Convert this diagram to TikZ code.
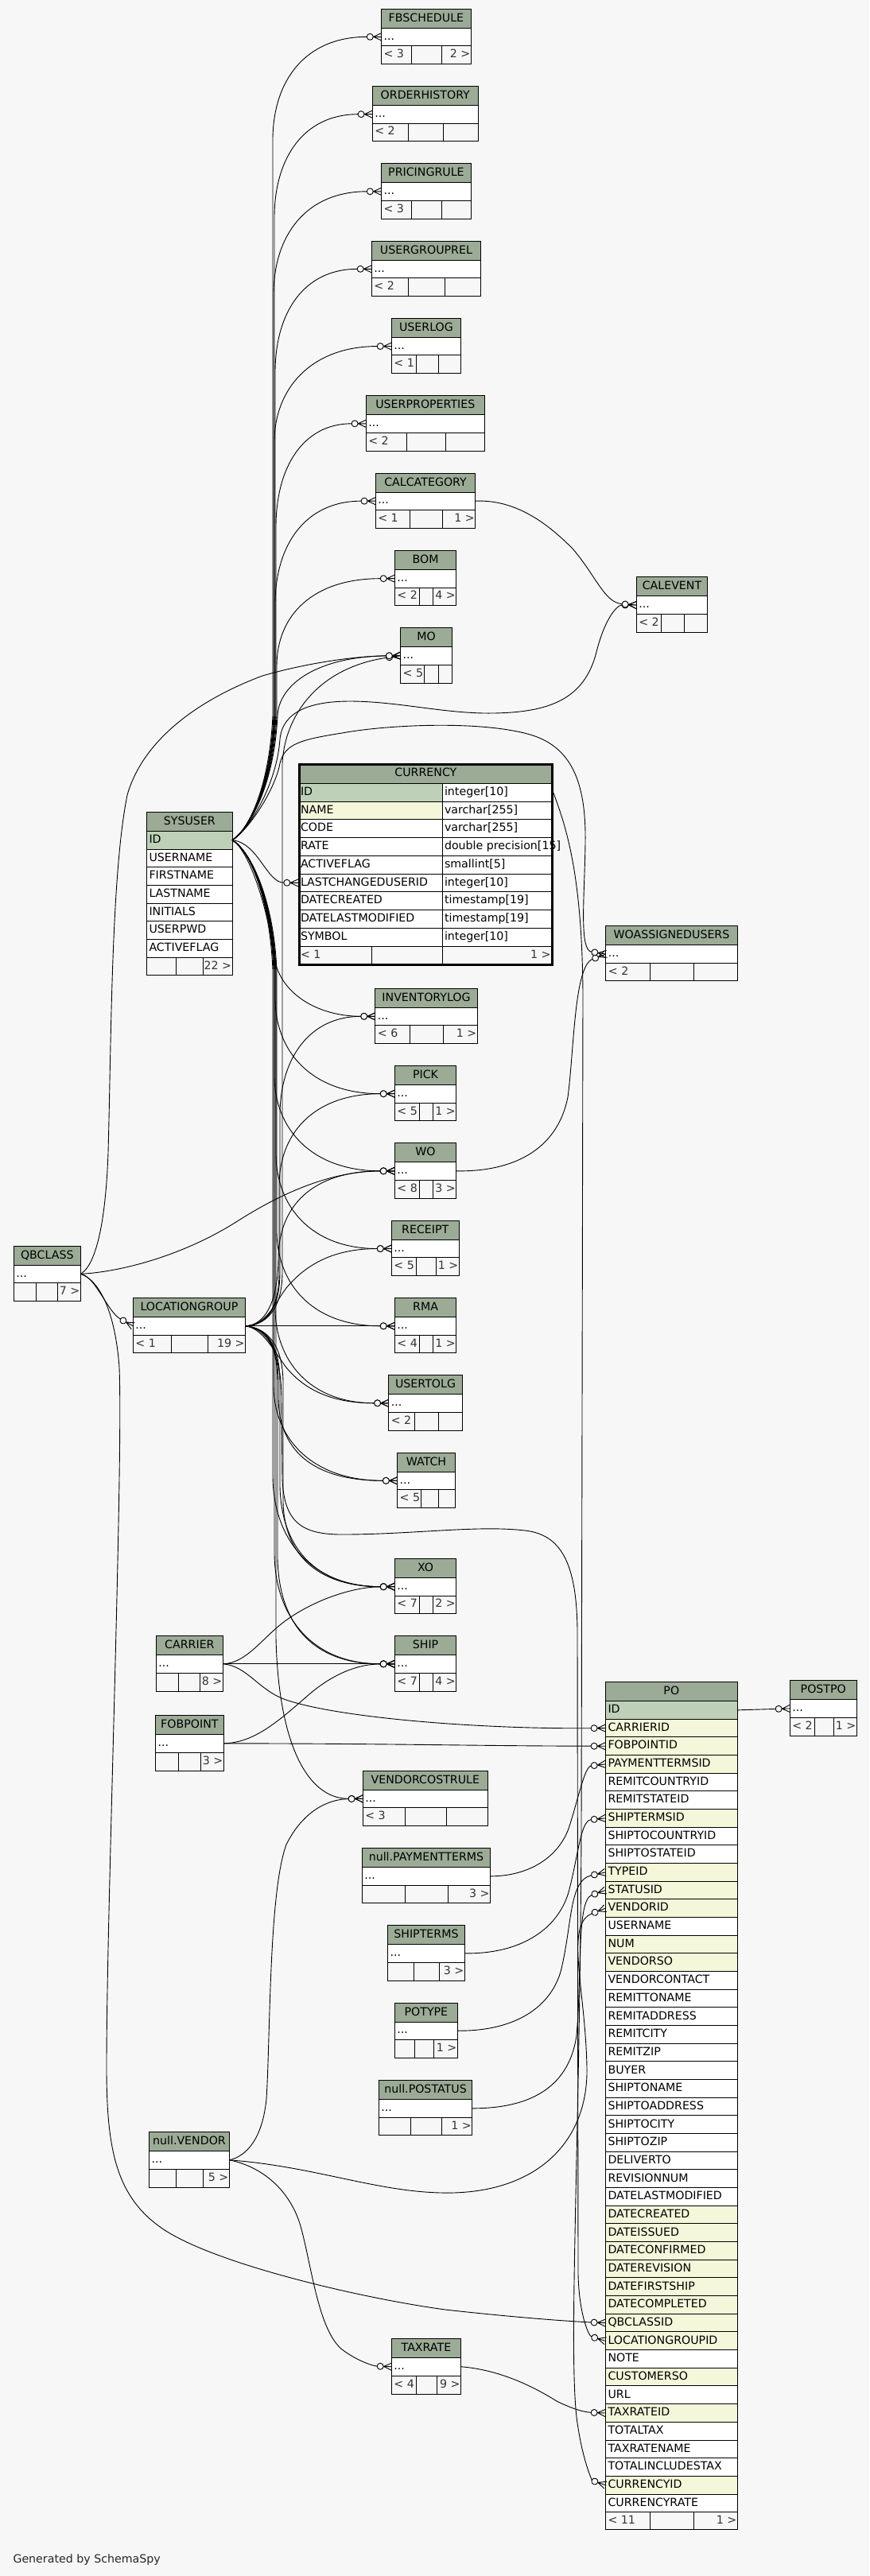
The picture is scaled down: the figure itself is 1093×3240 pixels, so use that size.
\documentclass[tikz,border=0pt]{standalone}
\usepackage{fontspec}
\setmainfont{DejaVu Sans}
\usetikzlibrary{arrows.meta}
\definecolor{bgc}{HTML}{F7F7F7}
\definecolor{hdrc}{HTML}{9BAB96}
\definecolor{pkc}{HTML}{BED1B8}
\definecolor{idxc}{HTML}{F4F7DA}
\pgfdeclarearrow{
  name = crowodot,
  setup code = {
    \pgfarrowssettipend{0pt}
    \pgfarrowssetlineend{-18pt}
    \pgfarrowssetbackend{-19pt}
    \pgfarrowssetvisualbackend{-19pt}
    \pgfarrowshullpoint{0pt}{5pt}
    \pgfarrowshullpoint{0pt}{-5pt}
    \pgfarrowshullpoint{-19pt}{0pt}
  },
  drawing code = {
    \pgfsetdash{}{0pt}
    \pgfsetroundjoin
    \pgfpathmoveto{\pgfqpoint{0pt}{4.6pt}}
    \pgfpathlineto{\pgfqpoint{-10pt}{0pt}}
    \pgfpathlineto{\pgfqpoint{0pt}{-4.6pt}}
    \pgfpathmoveto{\pgfqpoint{-10pt}{0pt}}
    \pgfpathlineto{\pgfqpoint{0pt}{0pt}}
    \pgfusepathqstroke
    \pgfsetfillcolor{bgc}
    \pgfpathcircle{\pgfqpoint{-14.2pt}{0pt}}{4pt}
    \pgfusepathqfillstroke
  }
}
\tikzset{
 tl/.style={line width=1pt, draw=black},
 txt/.style={font=\fontsize{14.2}{17}\selectfont, inner sep=0pt, outer sep=0pt, text height=10.5pt, text depth=3pt},
 ftxt/.style={txt, text=black!80},
 rowbox/.style={inner sep=0pt, outer sep=0pt, rectangle},
 fk/.style={draw, line width=0.9pt, -{crowodot}},
}
% compact table: name, title, x1, x2, y1, header bottom, row bottom, footer bottom
\newcommand{\ctab}[8]{%
  \fill[hdrc] (#3,#5) rectangle (#4,#6);
  \fill[white] (#3,#6) rectangle (#4,#7);
  \fill[bgc] (#3,#7) rectangle (#4,#8);
  \draw[tl] (#3,#5) rectangle (#4,#8) (#3,#6) -- (#4,#6) (#3,#7) -- (#4,#7);
  \node[txt] (#1-t) at ({(#3+#4)/2},{(#5+#6)/2}) {#2};
  \pgfmathsetmacro\cw{#4-#3}\pgfmathsetmacro\ch{#7-#6}
  \node[rowbox, minimum width=\cw pt, minimum height=\ch pt, anchor=north west] (#1) at (#3,#6) {};
  \node[txt, anchor=west] (#1-d) at ({#3+3},{(#6+#7)/2}) {...};
  \xdef\ctabx{#3}\xdef\ctabxx{#4}\xdef\ctabr{#7}\xdef\ctabf{#8}\xdef\ctabn{#1}%
}
% footer: c1, c2, left text, right text
\newcommand{\cfoot}[4]{%
  \draw[tl] (#1,\ctabr) -- (#1,\ctabf) (#2,\ctabr) -- (#2,\ctabf);
  \node[ftxt, anchor=west] (\ctabn-l) at ({\ctabx+3},{(\ctabr+\ctabf)/2}) {#3};
  \node[ftxt, anchor=east] (\ctabn-r) at ({\ctabxx-1},{(\ctabr+\ctabf)/2}) {#4};
}
\begin{document}
\begin{tikzpicture}[x=1pt,y=-1pt]
\fill[bgc] (0,0) rectangle (1093,3240);
\useasboundingbox (0,0) rectangle (1093,3240);

% ---------- tables (named nodes) ----------
\ctab{fbschedule}{FBSCHEDULE}{479.5}{592.4}{11.3}{35.3}{57.3}{80.3}\cfoot{517.4}{555.4}{< 3}{2 >}
\ctab{orderhistory}{ORDERHISTORY}{468.3}{601.3}{108.3}{132.3}{155}{177.3}\cfoot{513.4}{557.6}{< 2}{}
\ctab{pricingrule}{PRICINGRULE}{479.5}{592.4}{205.7}{229.3}{252.3}{275.3}\cfoot{517.4}{555.4}{< 3}{}
\ctab{usergrouprel}{USERGROUPREL}{467.4}{604.5}{303.3}{327.3}{349.3}{372.3}\cfoot{513.4}{559.4}{< 2}{}
\ctab{userlog}{USERLOG}{492.4}{579.5}{400.3}{424.3}{446.7}{469}\cfoot{523.7}{551.3}{< 1}{}
\ctab{userproperties}{USERPROPERTIES}{460.3}{609.4}{497.3}{521.3}{544.3}{567.3}\cfoot{511.6}{560.3}{< 2}{}
\ctab{calcategory}{CALCATEGORY}{472.3}{597.8}{595.3}{619.3}{641}{664.3}\cfoot{515.6}{556.7}{< 1}{1 >}
\ctab{bom}{BOM}{496.4}{573.7}{692.3}{716.3}{739}{761.3}\cfoot{527.7}{544.6}{< 2}{4 >}
\ctab{mo}{MO}{503.6}{568.8}{789.3}{813.3}{836}{859.3}\cfoot{533.9}{551.3}{< 5}{}
\ctab{calevent}{CALEVENT}{800.3}{889.7}{725.3}{749.7}{772.3}{795.3}\cfoot{831.3}{860.3}{< 2}{}
\ctab{woassignedusers}{WOASSIGNEDUSERS}{761.9}{927.1}{1164.3}{1188.3}{1211.7}{1233.3}\cfoot{817}{872.7}{< 2}{}
\ctab{inventorylog}{INVENTORYLOG}{471.9}{600.2}{1243.3}{1267.3}{1289.3}{1312.3}\cfoot{515.1}{557}{< 6}{1 >}
\ctab{pick}{PICK}{496.4}{573.7}{1340.3}{1364.3}{1387}{1409.7}\cfoot{527.7}{544.6}{< 5}{1 >}
\ctab{wo}{WO}{496.4}{573.7}{1437.7}{1461.3}{1484.3}{1507.3}\cfoot{527.7}{544.6}{< 8}{3 >}
\ctab{receipt}{RECEIPT}{492.4}{577.2}{1535.7}{1559.7}{1581.3}{1604.7}\cfoot{523.7}{548.7}{< 5}{1 >}
\ctab{rma}{RMA}{496.4}{573.7}{1632.7}{1656.3}{1679.3}{1701.3}\cfoot{527.7}{544.6}{< 4}{1 >}
\ctab{usertolg}{USERTOLG}{488.8}{581.3}{1729.3}{1753.3}{1776.3}{1799.3}\cfoot{521}{551.3}{< 2}{}
\ctab{watch}{WATCH}{499.6}{572.3}{1827.3}{1851.3}{1873.3}{1896.3}\cfoot{529.5}{551.3}{< 5}{}
\ctab{xo}{XO}{496.4}{573.7}{1960.3}{1984.3}{2007}{2029.3}\cfoot{527.7}{544.6}{< 7}{2 >}
\ctab{ship}{SHIP}{496.4}{573.7}{2057.3}{2081.3}{2104.3}{2127.3}\cfoot{527.7}{544.6}{< 7}{4 >}
\ctab{qbclass}{QBCLASS}{17.4}{101.3}{1567.3}{1591.3}{1613.3}{1636}\cfoot{45.5}{72.3}{}{7 >}
\ctab{locationgroup}{LOCATIONGROUP}{167.4}{308.5}{1632.7}{1656.3}{1679.3}{1701.3}\cfoot{215.6}{261.6}{< 1}{19 >}
\ctab{carrier}{CARRIER}{196.4}{280.4}{2057.3}{2081.3}{2104.3}{2127.3}\cfoot{224.6}{251.3}{}{8 >}
\ctab{fobpoint}{FOBPOINT}{195.5}{281.3}{2157.3}{2181.3}{2204.3}{2227.3}\cfoot{224.6}{252.7}{}{3 >}
\ctab{vendorcostrule}{VENDORCOSTRULE}{456.3}{613.4}{2227.3}{2251.3}{2273.3}{2296.3}\cfoot{509.4}{561.6}{< 3}{}
\ctab{paymentterms}{null.PAYMENTTERMS}{455.4}{616.5}{2324.3}{2348.3}{2371.3}{2393.7}\cfoot{509.4}{563.4}{}{3 >}
\ctab{shipterms}{SHIPTERMS}{487.5}{584.4}{2421.3}{2445.3}{2468.3}{2491.3}\cfoot{520.5}{552.7}{}{3 >}
\ctab{potype}{POTYPE}{496.4}{575.4}{2519.3}{2543.3}{2565}{2588.3}\cfoot{521.4}{545.5}{}{1 >}
\ctab{postatus}{null.POSTATUS}{476.3}{593.8}{2616.3}{2640.3}{2663.3}{2685.3}\cfoot{516.5}{555.4}{}{1 >}
\ctab{vendor}{null.VENDOR}{187.5}{288.4}{2681.3}{2705.3}{2728.3}{2751.3}\cfoot{221.5}{255.4}{}{5 >}
\ctab{taxrate}{TAXRATE}{492.4}{579.5}{2941.4}{2965.2}{2988.2}{3011.3}\cfoot{523.7}{549.6}{< 4}{9 >}
\ctab{postpo}{POSTPO}{993.3}{1077.3}{2113.5}{2137.2}{2160.6}{2183.2}\cfoot{1024.7}{1048.7}{< 2}{1 >}

% ---------- SYSUSER ----------
\fill[hdrc] (184.7,1021.3) rectangle (292,1045.3);
\node[txt] (sysuser-t) at (238.35,1033.3) {SYSUSER};
\foreach \n/\c [count=\i from 0] in {ID/pkc,USERNAME/white,FIRSTNAME/white,LASTNAME/white,INITIALS/white,USERPWD/white,ACTIVEFLAG/white}{
  \pgfmathsetmacro\yt{1045.3+22.7*\i}
  \fill[\c] (184.7,\yt) rectangle (292,\yt+22.7);
  \draw[tl] (184.7,\yt) -- (292,\yt);
  \node[rowbox, minimum width=107.3pt, minimum height=22.7pt, anchor=north west] (sysuser-\n) at (184.7,\yt) {};
  \node[txt, anchor=west] (sysuser-\n-l) at (187.5,\yt+11.35) {\n};
}
\fill[bgc] (184.7,1204.2) rectangle (292,1226.9);
\draw[tl] (184.7,1204.2) -- (292,1204.2) (221,1204.2) -- (221,1226.9) (255.8,1204.2) -- (255.8,1226.9);
\draw[tl] (184.7,1021.3) rectangle (292,1226.9);
\node[ftxt, anchor=east] (sysuser-r) at (291,1215.55) {22 >};

% ---------- CURRENCY ----------
\fill[hdrc] (375,959.7) rectangle (695.7,985.3);
\node[txt] (currency-t) at (535.35,973) {CURRENCY};
\foreach \n/\c/\ty [count=\i from 0] in {ID/pkc/{integer[10]},NAME/idxc/{varchar[255]},CODE/white/{varchar[255]},RATE/white/{double precision[15]},ACTIVEFLAG/white/{smallint[5]},LASTCHANGEDUSERID/white/{integer[10]},DATECREATED/white/{timestamp[19]},DATELASTMODIFIED/white/{timestamp[19]},SYMBOL/white/{integer[10]}}{
  \pgfmathsetmacro\yt{985.3+22.75*\i}
  \fill[\c] (375,\yt) rectangle (556.3,\yt+22.75);
  \fill[white] (556.3,\yt) rectangle (695.7,\yt+22.75);
  \draw[tl] (375,\yt) -- (695.7,\yt) (556.3,\yt) -- (556.3,\yt+22.75);
  \node[rowbox, minimum width=320.7pt, minimum height=22.75pt, anchor=north west] (currency-\n) at (375,\yt) {};
  \node[txt, anchor=west] (currency-\n-l) at (378,\yt+11.4) {\n};
  \node[txt, anchor=west] (currency-\n-ty) at (559,\yt+11.4) {\ty};
}
\fill[bgc] (375,1190) rectangle (695.7,1213);
\draw[tl] (375,1190) -- (695.7,1190) (467.7,1190) -- (467.7,1213) (556.3,1190) -- (556.3,1213);
\node[ftxt, anchor=west] (currency-l) at (378,1201.5) {< 1};
\node[ftxt, anchor=east] (currency-r) at (692.5,1201.5) {1 >};
\draw[line width=3pt] (376.5,961.2) rectangle (694.2,1213.5);

% ---------- PO ----------
\fill[hdrc] (761.3,2115.4) rectangle (927.3,2139.5);
\node[txt] (po-t) at (844.3,2127.45) {PO};
\foreach \n/\c [count=\i from 0] in {ID/pkc,CARRIERID/idxc,FOBPOINTID/idxc,PAYMENTTERMSID/idxc,REMITCOUNTRYID/white,REMITSTATEID/white,SHIPTERMSID/idxc,SHIPTOCOUNTRYID/white,SHIPTOSTATEID/white,TYPEID/idxc,STATUSID/idxc,VENDORID/idxc,USERNAME/white,NUM/idxc,VENDORSO/idxc,VENDORCONTACT/white,REMITTONAME/white,REMITADDRESS/white,REMITCITY/white,REMITZIP/white,BUYER/white,SHIPTONAME/white,SHIPTOADDRESS/white,SHIPTOCITY/white,SHIPTOZIP/white,DELIVERTO/white,REVISIONNUM/white,DATELASTMODIFIED/white,DATECREATED/idxc,DATEISSUED/idxc,DATECONFIRMED/idxc,DATEREVISION/idxc,DATEFIRSTSHIP/idxc,DATECOMPLETED/idxc,QBCLASSID/idxc,LOCATIONGROUPID/idxc,NOTE/white,CUSTOMERSO/idxc,URL/white,TAXRATEID/idxc,TOTALTAX/white,TAXRATENAME/white,TOTALINCLUDESTAX/white,CURRENCYID/idxc,CURRENCYRATE/white}{
  \pgfmathsetmacro\yt{2139.5+22.67*\i}
  \fill[\c] (761.3,\yt) rectangle (927.3,\yt+22.67);
  \draw[tl] (761.3,\yt) -- (927.3,\yt);
  \node[rowbox, minimum width=166pt, minimum height=22.67pt, anchor=north west] (po-\n) at (761.3,\yt) {};
  \node[txt, anchor=west] (po-\n-l) at (764.5,\yt+11.33) {\n};
}
\fill[bgc] (761.3,3159.6) rectangle (927.3,3181.3);
\draw[tl] (761.3,3159.6) -- (927.3,3159.6) (817.3,3159.6) -- (817.3,3181.3) (872.3,3159.6) -- (872.3,3181.3);
\draw[tl] (761.3,2115.4) rectangle (927.3,3181.3);
\node[ftxt, anchor=west] (po-l) at (764.5,3170.45) {< 11};
\node[ftxt, anchor=east] (po-r) at (926.3,3170.45) {1 >};

% ---------- connectors: SYSUSER (up) ----------
\draw[fk] (sysuser-ID.east) .. controls (315,1042) and (339,985) .. (343,900) -- (343,176.3) .. controls (343,101.3) and (384,46.3) .. (fbschedule.west);
\draw[fk] (sysuser-ID.east) .. controls (315,1042) and (341,985) .. (345,900) -- (345,273.7) .. controls (345,198.7) and (382,143.7) .. (orderhistory.west);
\draw[fk] (sysuser-ID.east) .. controls (315,1042) and (340,985) .. (344,900) -- (344,370.8) .. controls (344,295.8) and (385,240.8) .. (pricingrule.west);
\draw[fk] (sysuser-ID.east) .. controls (315,1042) and (342,985) .. (346,900) -- (346,468.3) .. controls (346,393.3) and (382,338.3) .. (usergrouprel.west);
\draw[fk] (sysuser-ID.east) .. controls (315,1042) and (341,985) .. (345,900) -- (345,555.7) .. controls (345,490) and (390,435.7) .. (userlog.west);
\draw[fk] (sysuser-ID.east) .. controls (315,1042) and (343,985) .. (347,900) -- (347,662.8) .. controls (347,587.8) and (381,532.8) .. (userproperties.west);
\draw[fk] (sysuser-ID.east) .. controls (315,1042) and (342,985) .. (346,900) -- (346,760.2) .. controls (346,685.2) and (384,630.2) .. (calcategory.west);
\draw[fk] (sysuser-ID.east) .. controls (315,1042) and (344,985) .. (348,900) -- (348,837.7) .. controls (348,775) and (392,727.7) .. (bom.west);
\draw[fk] (sysuser-ID.east) .. controls (315,1042) and (345,985) .. (349,900) .. controls (351,860) and (400,826) .. (mo.west);
\draw[fk] (sysuser-ID.east) .. controls (315,1042) and (348,985) .. (352,930) .. controls (355,895) and (390,882) .. (440,882) .. controls (500,882) and (560,898) .. (620,897) .. controls (690,896) and (735,880) .. (750,820) .. controls (760,780) and (775,761) .. (calevent.west);
\draw[fk] (sysuser-ID.east) .. controls (325,1060) and (335,1110) .. (currency-LASTCHANGEDUSERID.west);
\draw[fk] (sysuser-ID.east) .. controls (315,1042) and (347,990) .. (352,960) .. controls (358,935) and (380,930) .. (430,922) .. controls (490,911) and (610,906) .. (670,925) .. controls (722,942) and (737,990) .. (736,1060) .. controls (735,1130) and (728,1195) .. (woassignedusers.west);
% ---------- connectors: SYSUSER (down) ----------
\draw[fk] (sysuser-ID.east) .. controls (315,1070) and (338,1150) .. (344,1200) .. controls (350,1250) and (400,1278.3) .. (inventorylog.west);
\draw[fk] (sysuser-ID.east) .. controls (315,1070) and (342,1130) .. (346,1220) -- (346,1255.7) .. controls (346,1322) and (391,1375.7) .. (pick.west);
\draw[fk] (sysuser-ID.east) .. controls (315,1070) and (341,1130) .. (345,1220) -- (345,1352.8) .. controls (345,1419) and (391,1472.8) .. (wo.west);
\draw[fk] (sysuser-ID.east) .. controls (315,1070) and (343,1130) .. (347,1220) -- (347,1450.5) .. controls (347,1517) and (391,1570.5) .. (receipt.west);
\draw[fk] (sysuser-ID.east) .. controls (315,1070) and (344,1130) .. (348,1220) -- (348,1547.8) .. controls (348,1614) and (392,1667.8) .. (rma.west);
\draw[fk] (sysuser-ID.east) .. controls (315,1070) and (342,1130) .. (346,1220) -- (346,1644.8) .. controls (346,1711) and (389,1764.8) .. (usertolg.west);
\draw[fk] (sysuser-ID.east) .. controls (315,1070) and (340,1130) .. (344,1220) -- (344,1742.3) .. controls (344,1808) and (391,1862.3) .. (watch.west);
\draw[fk] (sysuser-ID.east) .. controls (315,1070) and (339,1130) .. (343,1220) -- (343,1855.7) .. controls (343,1933) and (389,1995.7) .. (xo.west);
\draw[fk] (sysuser-ID.east) .. controls (315,1070) and (341,1130) .. (345,1220) -- (345,1952.8) .. controls (345,2030) and (390,2092.8) .. (ship.west);
\draw[fk] (sysuser-ID.east) .. controls (315,1070) and (343,1130) .. (347,1220) -- (347,2060) .. controls (350,2190) and (385,2262.3) .. (vendorcostrule.west);

% ---------- connectors: LOCATIONGROUP ----------
\draw[fk] (locationgroup.east) .. controls (332,1667) and (355,1650) .. (355,1600) -- (355,960) .. controls (358,900) and (400,840) .. (mo.west);
\draw[fk] (locationgroup.east) .. controls (332,1667) and (352,1650) .. (352,1600) -- (352,1400) .. controls (353,1330) and (390,1278.3) .. (inventorylog.west);
\draw[fk] (locationgroup.east) .. controls (332,1667) and (351,1650) .. (351,1600) -- (351,1490) .. controls (352,1420) and (400,1375.7) .. (pick.west);
\draw[fk] (locationgroup.east) .. controls (332,1667) and (350,1640) .. (350,1580) .. controls (352,1510) and (400,1472.8) .. (wo.west);
\draw[fk] (locationgroup.east) .. controls (335,1667) and (345,1640) .. (360,1620) .. controls (385,1590) and (420,1570.5) .. (receipt.west);
\draw[fk] (locationgroup.east) -- (rma.west);
\draw[fk] (locationgroup.east) .. controls (330,1670) and (345,1700) .. (360,1720) .. controls (385,1750) and (420,1764.8) .. (usertolg.west);
\draw[fk] (locationgroup.east) .. controls (335,1670) and (350,1690) .. (350,1740) -- (350,1760) .. controls (352,1830) and (400,1862.3) .. (watch.west);
\draw[fk] (locationgroup.east) .. controls (335,1670) and (352,1690) .. (352,1740) -- (352,1870) .. controls (354,1950) and (400,1995.7) .. (xo.west);
\draw[fk] (locationgroup.east) .. controls (335,1670) and (356,1690) .. (356,1740) -- (356,1890) .. controls (358,1960) and (405,1995.7) .. (xo.west);
\draw[fk] (locationgroup.east) .. controls (335,1670) and (349,1690) .. (349,1740) -- (349,1960) .. controls (351,2050) and (400,2092.8) .. (ship.west);
\draw[fk] (locationgroup.east) .. controls (335,1670) and (354,1700) .. (354,1760) -- (355,1860) .. controls (357,1915) and (380,1930) .. (430,1930) .. controls (520,1930) and (600,1918) .. (660,1925) .. controls (705,1930) and (725,1965) .. (726,2050) -- (727,2860) .. controls (728,2910) and (740,2938) .. (po-LOCATIONGROUPID.west);

% ---------- connectors: QBCLASS ----------
\draw[fk] (qbclass.east) .. controls (115,1595) and (132,1560) .. (136,1450) .. controls (140,1300) and (140,1100) .. (160,1000) .. controls (180,930) and (250,880) .. (330,850) .. controls (400,830) and (460,825) .. (mo.west);
\draw[fk] (qbclass.east) .. controls (150,1600) and (230,1580) .. (300,1535) .. controls (360,1497) and (420,1473) .. (wo.west);
\draw[fk] (qbclass.east) .. controls (120,1605) and (135,1650) .. (locationgroup.west);
\draw[fk] (qbclass.east) .. controls (125,1610) and (145,1650) .. (150,1720) .. controls (155,1850) and (134,2400) .. (134,2600) .. controls (134,2700) and (145,2760) .. (200,2800) .. controls (260,2845) and (450,2890) .. (560,2905) .. controls (650,2915) and (720,2920) .. (po-QBCLASSID.west);

% ---------- other connectors ----------
\draw[fk] (calcategory.east) .. controls (650,628) and (690,660) .. (720,690) .. controls (750,725) and (760,758) .. (calevent.west);
\draw[fk] (wo.east) .. controls (640,1474) and (700,1450) .. (714,1380) .. controls (722,1320) and (722,1215) .. (woassignedusers.west);
\draw[fk] (currency-ID.east) .. controls (712,1040) and (732,1100) .. (733,1250) -- (731,2300) .. controls (729,2700) and (715,2950) .. (725,3040) .. controls (732,3095) and (745,3120) .. (po-CURRENCYID.west);
\draw[fk] (carrier.east) .. controls (310,2092) and (330,2060) .. (357,2040) .. controls (390,2015) and (440,1996) .. (xo.west);
\draw[fk] (carrier.east) -- (ship.west);
\draw[fk] (carrier.east) .. controls (310,2095) and (325,2125) .. (357,2137) .. controls (420,2160) and (600,2175) .. (po-CARRIERID.west);
\draw[fk] (fobpoint.east) .. controls (320,2192) and (350,2165) .. (390,2130) .. controls (420,2105) and (450,2093) .. (ship.west);
\draw[fk] (fobpoint.east) .. controls (500,2193) and (600,2196) .. (po-FOBPOINTID.west);
\draw[fk] (paymentterms.east) .. controls (660,2360) and (700,2340) .. (715,2300) .. controls (728,2260) and (735,2222) .. (po-PAYMENTTERMSID.west);
\draw[fk] (shipterms.east) .. controls (650,2458) and (700,2430) .. (715,2380) .. controls (728,2330) and (730,2290) .. (po-SHIPTERMSID.west);
\draw[fk] (potype.east) .. controls (640,2555) and (690,2530) .. (705,2480) .. controls (720,2420) and (715,2365) .. (po-TYPEID.west);
\draw[fk] (postatus.east) .. controls (660,2652) and (715,2630) .. (725,2560) .. controls (732,2480) and (725,2390) .. (po-STATUSID.west);
\draw[fk] (vendor.east) .. controls (400,2725) and (480,2760) .. (570,2758) .. controls (680,2755) and (740,2690) .. (738,2600) .. controls (736,2500) and (710,2420) .. (po-VENDORID.west);
\draw[fk] (vendor.east) .. controls (310,2712) and (330,2690) .. (335,2640) .. controls (340,2560) and (338,2380) .. (360,2320) .. controls (380,2280) and (410,2263) .. (vendorcostrule.west);
\draw[fk] (vendor.east) .. controls (330,2725) and (365,2755) .. (378,2800) .. controls (392,2850) and (400,2930) .. (430,2955) .. controls (450,2970) and (470,2976) .. (taxrate.west);
\draw[fk] (taxrate.east) .. controls (620,2980) and (660,2995) .. (700,3020) .. controls (720,3030) and (735,3034) .. (po-TAXRATEID.west);
\draw[fk] (po-ID.east) -- (postpo.west);

\node[txt, anchor=base west, text=black!85] (gen) at (16.5,3223) {Generated by SchemaSpy};
\end{tikzpicture}
\end{document}
